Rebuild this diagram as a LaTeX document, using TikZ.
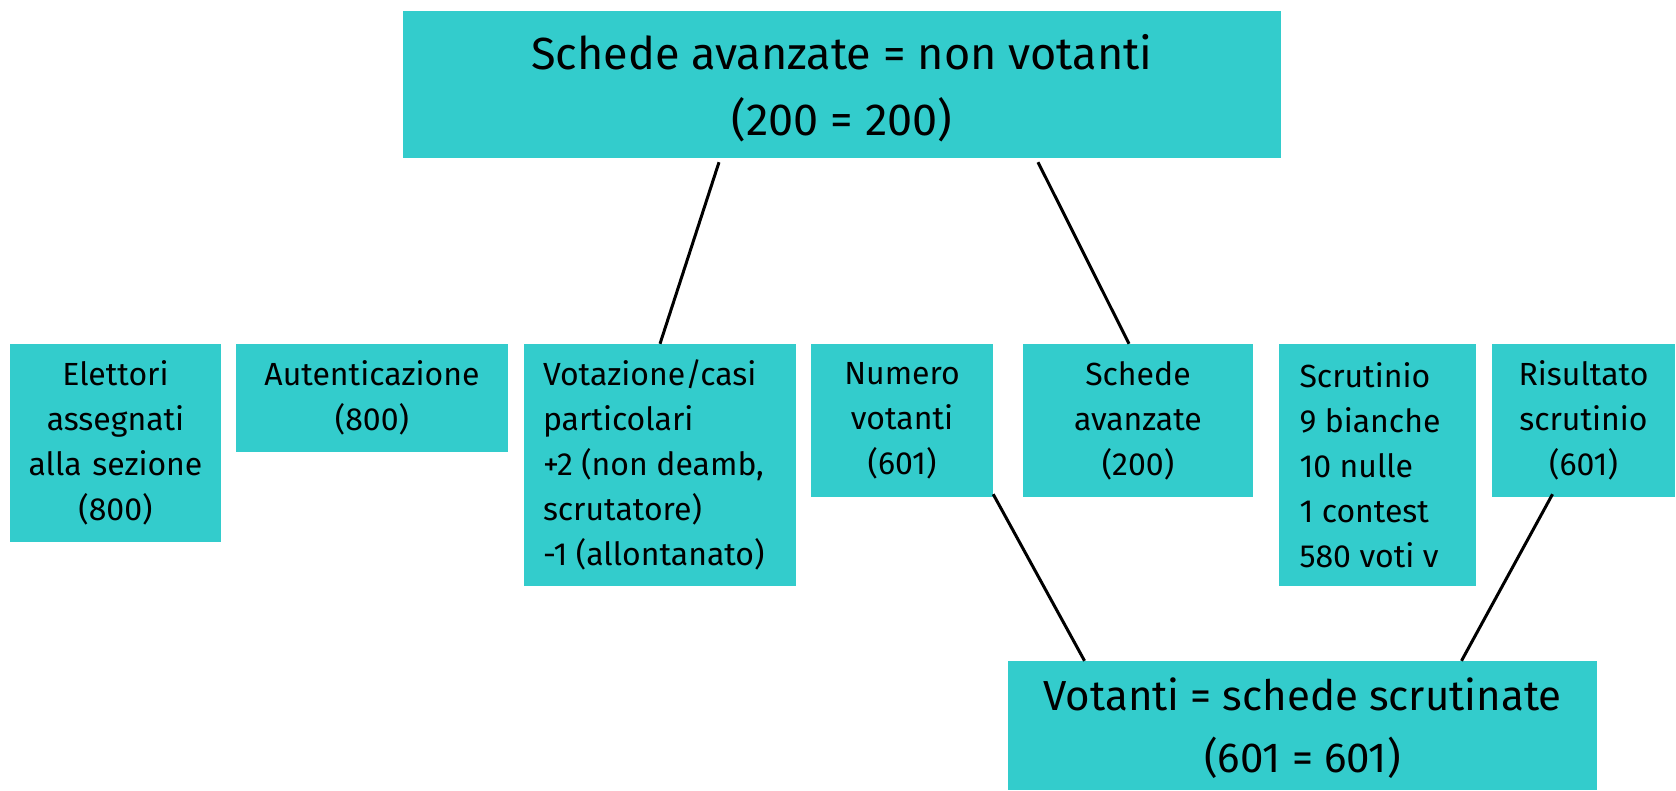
\documentclass[tikz,border=0pt]{standalone}
\usepackage{fontspec}
\setmainfont{Fira Sans}
\usetikzlibrary{calc}
\definecolor{teal1}{HTML}{33CCCC}
\hyphenpenalty=10000
\exhyphenpenalty=10000
\tikzset{
  boxc/.style={fill=teal1, inner sep=0pt, align=center, font=\fontsize{32}{45}\selectfont},
  boxl/.style={fill=teal1, inner sep=0pt, align=flush left, font=\fontsize{32}{45}\selectfont},
  bigbox/.style={fill=teal1, inner sep=0pt, align=center, font=\fontsize{45}{66}\selectfont},
  bigboxb/.style={fill=teal1, inner sep=0pt, align=center, font=\fontsize{42}{62}\selectfont},
  link/.style={line width=3pt, black}
}
\begin{document}
\begin{tikzpicture}[x=1pt,y=-1pt]
\useasboundingbox (0,0) rectangle (1676,790);
\node[bigbox, minimum width=878pt, minimum height=147pt, text depth=0pt] (top) at (842,84.5) {Schede avanzate = non votanti\\(200 = 200)};
\node[boxc, minimum width=211pt, minimum height=198pt, text width=205pt] (el) at (115.5,443) {Elettori\\assegnati\\alla sezione\\(800)};
\node[boxc, minimum width=272pt, minimum height=108pt, text width=260pt] (au) at (372,398) {Autenticazione\\(800)};
\node[boxl, minimum width=272pt, minimum height=242pt, text width=234pt] (vot) at (660,465) {Votazione/casi\\particolari\\+2 (non deamb,\\scrutatore)\\-1 (allontanato)};
\node[boxc, minimum width=182pt, minimum height=153pt, text width=175pt] (nu) at (902,420.5) {Numero\\votanti\\(601)};
\node[boxc, minimum width=230pt, minimum height=153pt, text width=220pt] (sa) at (1138,420.5) {Schede\\avanzate\\(200)};
\node[boxl, minimum width=197pt, minimum height=242pt, text width=156pt] (sc) at (1377.5,465) {Scrutinio\\9 bianche\\10 nulle\\1 contest\\580 voti v};
\node[boxc, minimum width=183pt, minimum height=153pt, text width=180pt] (ri) at (1583.5,420.5) {Risultato\\scrutinio\\(601)};
\node[bigboxb, minimum width=589pt, minimum height=129pt, text depth=-5pt] (bo) at (1302.5,725.5) {Votanti = schede scrutinate\\(601 = 601)};
\draw[link] ($(top.south)+(-123,4)$) -- (vot.north);
\draw[link] ($(top.south)+(196,4)$) -- ($(sa.north)+(-9,0)$);
\draw[link] ($(nu.south east)+(0,-3)$) -- ($(bo.north)+(-218,0)$);
\draw[link] ($(ri.south)+(-31,-3)$) -- ($(bo.north)+(159,0)$);
\end{tikzpicture}
\end{document}
